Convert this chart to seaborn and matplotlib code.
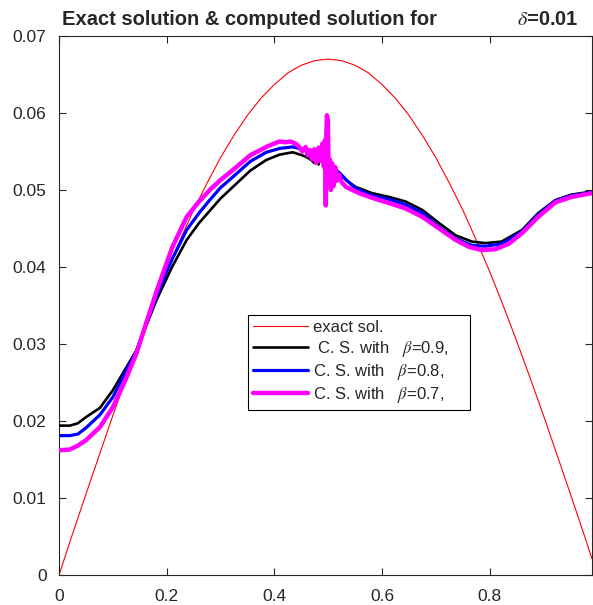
import numpy as np
import pandas as pd
import matplotlib
matplotlib.use("Agg")
import matplotlib.pyplot as plt
import seaborn as sns
from matplotlib.ticker import FormatStrFormatter

# exact solution (red)
x_exact = [0, 0.025, 0.05, 0.075, 0.1, 0.125, 0.15, 0.175, 0.2, 0.225, 0.25, 0.275, 0.3,
           0.325, 0.35, 0.375, 0.4, 0.425, 0.45, 0.475, 0.5, 0.525, 0.55, 0.575, 0.6,
           0.625, 0.65, 0.675, 0.7, 0.725, 0.75, 0.775, 0.8, 0.825, 0.85, 0.875, 0.9,
           0.925, 0.95, 0.975, 0.99]
y_exact = [0, 0.0053, 0.0105, 0.0156, 0.0207, 0.0256, 0.0304, 0.0350, 0.0394, 0.0435,
           0.0474, 0.0509, 0.0542, 0.0571, 0.0597, 0.0619, 0.0637, 0.0652, 0.0662, 0.0668,
           0.0670, 0.0668, 0.0662, 0.0652, 0.0637, 0.0619, 0.0597, 0.0571, 0.0542, 0.0509,
           0.0474, 0.0435, 0.0394, 0.0350, 0.0304, 0.0256, 0.0207, 0.0156, 0.0105, 0.0053,
           0.0021]

# computed solution, beta = 0.9 (black)
x_b09 = [0, 0.02, 0.035, 0.05, 0.076, 0.1, 0.122, 0.144, 0.16, 0.181, 0.21, 0.237, 0.26,
         0.28, 0.3, 0.323, 0.355, 0.385, 0.41, 0.434, 0.452, 0.462, 0.47, 0.474, 0.478,
         0.482, 0.486, 0.49, 0.494, 0.498, 0.502, 0.506, 0.51, 0.515, 0.52, 0.535, 0.551,
         0.581, 0.613, 0.644, 0.675, 0.706, 0.737, 0.767, 0.792, 0.822, 0.86, 0.89, 0.922,
         0.952, 0.99]
y_b09 = [0.0194, 0.0194, 0.0197, 0.0205, 0.0217, 0.0240, 0.0266, 0.0292, 0.0320, 0.0357,
         0.0400, 0.0435, 0.0457, 0.0473, 0.0489, 0.0504, 0.0525, 0.0539, 0.0546, 0.0549,
         0.0545, 0.0542, 0.0538, 0.0535, 0.0540, 0.0533, 0.0542, 0.0537, 0.0545, 0.0540,
         0.0530, 0.0532, 0.0525, 0.0527, 0.0522, 0.0512, 0.0504, 0.0496, 0.0491, 0.0485,
         0.0474, 0.0457, 0.0441, 0.0433, 0.0431, 0.0433, 0.0448, 0.0470, 0.0487, 0.0494,
         0.0498]

# computed solution, beta = 0.8 (blue)
x_b08 = [0, 0.02, 0.035, 0.05, 0.076, 0.1, 0.122, 0.144, 0.16, 0.181, 0.21, 0.237, 0.26,
         0.28, 0.3, 0.323, 0.355, 0.385, 0.41, 0.434, 0.452, 0.462, 0.47, 0.474, 0.478,
         0.482, 0.486, 0.49, 0.494, 0.4975, 0.4995, 0.501, 0.505, 0.51, 0.515, 0.52,
         0.535, 0.551, 0.581, 0.613, 0.644, 0.675, 0.706, 0.737, 0.767, 0.792, 0.822,
         0.86, 0.89, 0.922, 0.952, 0.99]
y_b08 = [0.0181, 0.0181, 0.0183, 0.0191, 0.0208, 0.0231, 0.0262, 0.0291, 0.0322, 0.0362,
         0.0410, 0.0448, 0.0470, 0.0487, 0.0503, 0.0517, 0.0537, 0.0549, 0.0554, 0.0556,
         0.0553, 0.0550, 0.0545, 0.0552, 0.0540, 0.0553, 0.0540, 0.0555, 0.0535, 0.0597,
         0.0585, 0.0515, 0.0505, 0.0530, 0.0515, 0.0523, 0.0512, 0.0502, 0.0493, 0.0488,
         0.0481, 0.0470, 0.0452, 0.0437, 0.0428, 0.0427, 0.0430, 0.0446, 0.0468, 0.0486,
         0.0493, 0.0497]

# computed solution, beta = 0.7 (magenta)
x_b07 = [0, 0.02, 0.035, 0.05, 0.076, 0.1, 0.122, 0.144, 0.16, 0.181, 0.21, 0.237, 0.26,
         0.28, 0.3, 0.323, 0.355, 0.385, 0.409, 0.42, 0.43, 0.44, 0.446, 0.452, 0.458,
         0.462, 0.466, 0.47, 0.474, 0.478, 0.482, 0.486, 0.489, 0.492, 0.494, 0.4955,
         0.4975, 0.4995, 0.501, 0.503, 0.505, 0.507, 0.51, 0.513, 0.516, 0.52, 0.525,
         0.533, 0.545, 0.557, 0.581, 0.613, 0.644, 0.675, 0.706, 0.737, 0.762, 0.785,
         0.81, 0.835, 0.86, 0.89, 0.922, 0.952, 0.99]
y_b07 = [0.0162, 0.0163, 0.0168, 0.0175, 0.0192, 0.0218, 0.0251, 0.0288, 0.0323, 0.0368,
         0.0425, 0.0465, 0.0485, 0.0500, 0.0513, 0.0526, 0.0545, 0.0556, 0.0563, 0.0562,
         0.0563, 0.0560, 0.0556, 0.0550, 0.0556, 0.0545, 0.0552, 0.0540, 0.0553, 0.0535,
         0.0555, 0.0538, 0.0560, 0.0530, 0.0565, 0.0480, 0.0597, 0.0590, 0.0510, 0.0540,
         0.0500, 0.0535, 0.0505, 0.0530, 0.0512, 0.0520, 0.0510, 0.0504, 0.0500, 0.0496,
         0.0490, 0.0483, 0.0476, 0.0465, 0.0450, 0.0435, 0.0426, 0.0422, 0.0423, 0.0430,
         0.0444, 0.0465, 0.0484, 0.0491, 0.0496]

x_ticks = [0, 0.2, 0.4, 0.6, 0.8]
y_ticks = [0, 0.01, 0.02, 0.03, 0.04, 0.05, 0.06, 0.07]

sns.set_theme(style="ticks")
plt.rcParams["font.family"] = ["Liberation Sans", "DejaVu Sans"]
plt.rcParams["mathtext.fontset"] = "stix"
plt.rcParams["xtick.direction"] = "in"
plt.rcParams["ytick.direction"] = "in"

fig = plt.figure(figsize=(5.93, 6.05), dpi=100)
ax = fig.add_axes([59 / 593, 30 / 605, 533 / 593, 539 / 605])

sns.lineplot(x=x_exact, y=y_exact, color="red", lw=0.8, label="exact sol.",
             estimator=None, ax=ax, zorder=2)
sns.lineplot(x=x_b09, y=y_b09, color="black", lw=1.9, label=r" C. S. with   $\beta$=0.9,    ",
             estimator=None, ax=ax, zorder=3)
sns.lineplot(x=x_b08, y=y_b08, color="blue", lw=2.3, label=r"C. S. with   $\beta$=0.8,",
             estimator=None, ax=ax, zorder=4)
sns.lineplot(x=x_b07, y=y_b07, color="magenta", lw=3.2, label=r"C. S. with   $\beta$=0.7,",
             estimator=None, ax=ax, zorder=5)

ax.set_xlim(0, 0.99)
ax.set_ylim(0, 0.07)
ax.set_xticks(x_ticks)
ax.set_yticks(y_ticks)
ax.xaxis.set_major_formatter(FormatStrFormatter("%g"))
ax.yaxis.set_major_formatter(FormatStrFormatter("%g"))
ax.tick_params(axis="both", labelsize=12.5, colors="#262626", length=5, width=0.8,
               top=True, right=True)
ax.tick_params(axis="x", pad=10)
ax.tick_params(axis="y", pad=9)
for s in ax.spines.values():
    s.set_visible(True)
    s.set_color("#262626")
    s.set_linewidth(0.8)
ax.set_xlabel("")
ax.set_ylabel("")

leg = ax.legend(loc="upper left", bbox_to_anchor=(0.355, 0.482), borderaxespad=0,
                fontsize=12, handlelength=3.3, handletextpad=0.3, labelspacing=0.2,
                borderpad=0.3, fancybox=False, framealpha=1, edgecolor="black")
leg.get_frame().set_linewidth(0.8)

ax.text(0.006, 1.02, "Exact solution & computed solution for", transform=ax.transAxes,
        fontsize=14.5, fontweight="bold", ha="left", va="baseline")
ax.text(0.974, 1.02, r"$\delta$=0.01", transform=ax.transAxes,
        fontsize=14.5, fontweight="bold", ha="right", va="baseline")

fig.savefig("out.png", dpi=100)
